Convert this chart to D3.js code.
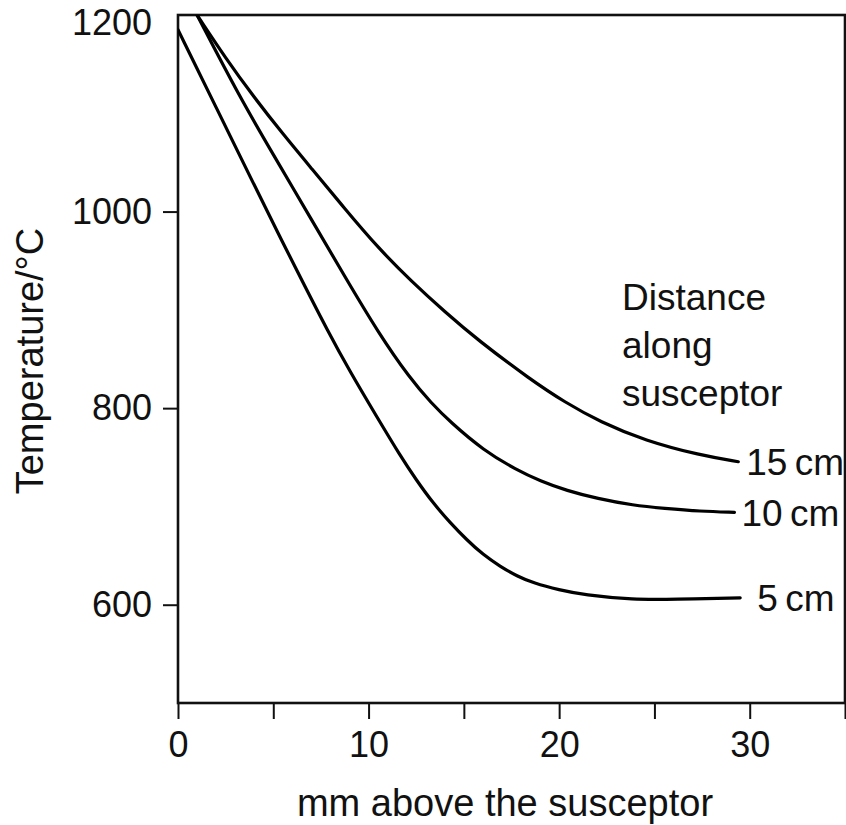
<!DOCTYPE html>
<html>
<head>
<meta charset="utf-8">
<script src="https://cdn.jsdelivr.net/npm/d3@7"></script>
<style>
  body { margin: 0; background: #fff; }
  svg { display: block; font-family: "Liberation Sans", Arial, Helvetica, sans-serif; }
</style>
</head>
<body>
<div id="chart"></div>
<script>
const width = 846;
const height = 825;

// mm above the susceptor vs temperature (°C)
const curve5 = [
  [0, 1185], [2, 1106], [4, 1027], [5.25, 978], [6.5, 930], [7.87, 878], [9, 838],
  [10.5, 789], [11.65, 752], [12.5, 727], [13.4, 703], [14.3, 683], [15.15, 666],
  [16, 651], [16.9, 639], [17.8, 629], [18.65, 622], [20, 615], [21.3, 610],
  [23.9, 605], [26, 605.5], [29.5, 607]
];
const curve10 = [
  [1.0, 1200], [3.25, 1116], [5, 1058], [7, 992], [8.75, 934], [10.5, 877],
  [12.18, 830], [13.3, 805], [14.28, 786], [16.03, 757], [17.78, 737], [19, 726],
  [20.4, 716], [22, 708], [23.9, 701], [25.5, 698], [27.4, 695], [29.2, 694]
];
const curve15 = [
  [1.0, 1200], [2.5, 1156], [4, 1116], [5.5, 1079], [7, 1044], [8.75, 1003],
  [10.5, 963], [12.25, 929], [14, 898], [15.75, 869], [18.5, 829], [20.3, 806],
  [22.15, 786], [24.5, 767], [27.4, 752], [29.4, 745.5]
];
const seriesNames = ['5\u2009cm', '10\u2009cm', '15\u2009cm'];
const seriesData = [curve5, curve10, curve15];

const xTicks = [0, 5, 10, 15, 20, 25, 30, 35];
const xTickLabels = [0, 10, 20, 30];
const yTicks = [600, 800, 1000, 1200];
const legendLines = ['Distance', 'along', 'susceptor'];

const margin = { top: 15, right: 1, bottom: 122, left: 178 };
const usableArea = {
  top: margin.top,
  right: width - margin.right,
  bottom: height - margin.bottom,
  left: margin.left,
};

const svg = d3
  .select('#chart')
  .append('svg')
  .attr('width', width)
  .attr('height', height)
  .attr('viewBox', `0 0 ${width} ${height}`);

const xScale = d3.scaleLinear()
  .domain([0, 35])
  .range([usableArea.left, usableArea.right]);

const yScale = d3.scaleLinear()
  .domain([500, 1200])
  .range([usableArea.bottom, usableArea.top]);

// x axis
const xAxis = svg.append('g')
  .attr('transform', `translate(0, ${usableArea.bottom})`)
  .call(
    d3.axisBottom(xScale)
      .tickValues(xTicks)
      .tickSize(16)
      .tickPadding(12)
      .tickFormat((d) => (xTickLabels.includes(d) ? d : ''))
  );

// y axis
const yAxis = svg.append('g')
  .attr('transform', `translate(${usableArea.left}, 0)`)
  .call(
    d3.axisLeft(yScale)
      .tickValues(yTicks)
      .tickSize(15)
      .tickPadding(11)
      .tickFormat(d3.format('d'))
  );

[xAxis, yAxis].forEach((g) => {
  g.select('.domain').remove();
  g.selectAll('line').attr('stroke', '#111').attr('stroke-width', 2);
  g.selectAll('text')
    .attr('fill', '#111')
    .style('font-size', '36px');
});

// top label sits below the frame line, no tick there
yAxis.selectAll('.tick')
  .filter((d) => d === 1200)
  .call((t) => t.select('line').remove())
  .select('text')
  .attr('dy', '0.55em');

// frame
svg.append('rect')
  .attr('x', usableArea.left)
  .attr('y', usableArea.top)
  .attr('width', usableArea.right - usableArea.left)
  .attr('height', usableArea.bottom - usableArea.top)
  .attr('fill', 'none')
  .attr('stroke', '#111')
  .attr('stroke-width', 2.6);

svg.append('clipPath')
  .attr('id', 'plot-clip')
  .append('rect')
  .attr('x', usableArea.left)
  .attr('y', usableArea.top)
  .attr('width', usableArea.right - usableArea.left)
  .attr('height', usableArea.bottom - usableArea.top);

const line = d3.line()
  .x((d) => xScale(d[0]))
  .y((d) => yScale(d[1]))
  .curve(d3.curveBasis);

svg.append('g')
  .attr('clip-path', 'url(#plot-clip)')
  .selectAll('path')
  .data(seriesData)
  .join('path')
  .attr('d', line)
  .attr('fill', 'none')
  .attr('stroke', '#000')
  .attr('stroke-width', 3.2)
  .attr('stroke-linecap', 'round')
  .attr('stroke-linejoin', 'round');

// curve end labels
const labelOffsets = [17, 7, 8];
svg.append('g')
  .selectAll('text')
  .data(seriesData)
  .join('text')
  .attr('x', (d, i) => xScale(d[d.length - 1][0]) + labelOffsets[i])
  .attr('y', (d) => yScale(d[d.length - 1][1]))
  .attr('dy', '0.36em')
  .style('font-size', '37px')
  .attr('fill', '#111')
  .text((d, i) => seriesNames[i]);

// legend title
svg.append('text')
  .attr('x', 622)
  .attr('y', 310)
  .style('font-size', '37px')
  .attr('fill', '#111')
  .selectAll('tspan')
  .data(legendLines)
  .join('tspan')
  .attr('x', 622)
  .attr('dy', (d, i) => (i === 0 ? 0 : 48))
  .text((d) => d);

// axis titles
svg.append('text')
  .attr('x', (usableArea.left + 832) / 2)
  .attr('y', 816)
  .attr('text-anchor', 'middle')
  .style('font-size', '38px')
  .attr('fill', '#111')
  .text('mm above the susceptor');

svg.append('text')
  .attr('transform', `translate(43, 361) rotate(-90)`)
  .attr('text-anchor', 'middle')
  .style('font-size', '38px')
  .attr('fill', '#111')
  .text('Temperature/°C');
</script>
</body>
</html>
